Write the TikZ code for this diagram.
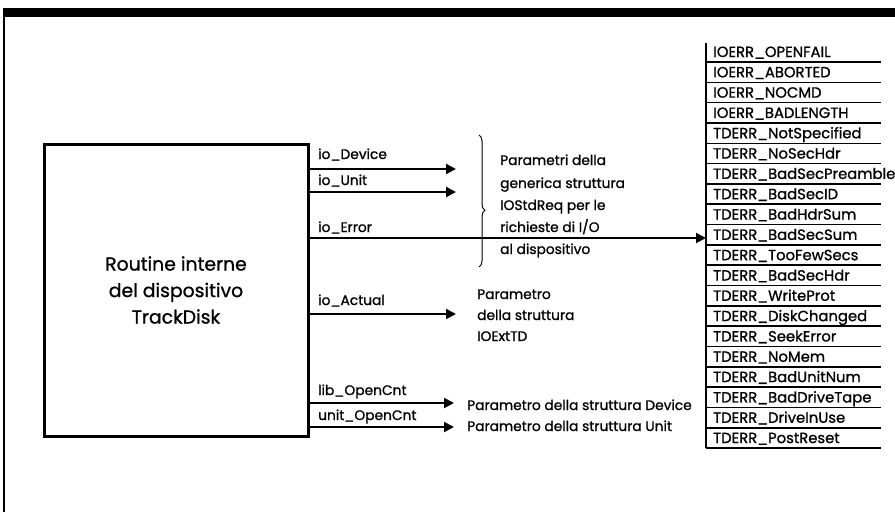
\documentclass[tikz,border=0pt]{standalone}
\usepackage{fontspec}
\setmainfont{Poppins}[FakeBold=1]
\usetikzlibrary{arrows.meta,decorations.pathreplacing}
\begin{document}
\begin{tikzpicture}[x=1pt,y=-1pt,
  lbl/.style={anchor=base west, inner sep=0pt, font=\fontsize{13.8}{15}\selectfont},
  rowtxt/.style={anchor=base west, inner sep=0pt, font=\fontsize{14.8}{15}\selectfont},
  conn/.style={line width=2pt, -{Triangle[length=10pt,width=10pt]}},
  rule/.style={line width=1.5pt},
  mainbox/.style={draw, line width=3pt, minimum width=264pt, minimum height=292pt, inner sep=0pt}]
\useasboundingbox (0,0) rectangle (895,523);
% frame: top bar and left rule
\fill (3,8) rectangle (895,17);
\draw[line width=1.6pt] (4,17) -- (4,512);
% main box
\node[mainbox] (box) at (176,290) {};
\node[align=center, font=\fontsize{18.8}{26.5}\selectfont] (boxtxt) at (box.center) {Routine interne\\del dispositivo\\TrackDisk};
% labels
\node[lbl] (lDev) at (318,159) {io\_Device};
\node[lbl] (lUnit) at (318,185) {io\_Unit};
\node[lbl] (lErr) at (318,232) {io\_Error};
\node[lbl] (lAct) at (318,305) {io\_Actual};
\node[lbl] (lLib) at (318,395) {lib\_OpenCnt};
\node[lbl] (lUop) at (318,420) {unit\_OpenCnt};
% arrow end points
\coordinate (eDev) at (456,169);
\coordinate (eUnit) at (456,192);
\coordinate (eErr) at (706,238);
\coordinate (eAct) at (456,314);
\coordinate (eLib) at (454,403);
\coordinate (eUop) at (454,427);
\draw[conn] (box.east |- eDev) -- (eDev);
\draw[conn] (box.east |- eUnit) -- (eUnit);
\draw[conn] (box.east |- eErr) -- (eErr);
\draw[conn] (box.east |- eAct) -- (eAct);
\draw[conn] (box.east |- eLib) -- (eLib);
\draw[conn] (box.east |- eUop) -- (eUop);
% brace and its text
\coordinate (brTop) at (479,135);
\coordinate (brBot) at (479,267);
\draw[line width=1pt, decorate, decoration={brace, amplitude=6pt, aspect=0.57}] (brTop) -- (brBot);
\node[lbl] (p1) at (500,165) {Parametri della};
\node[lbl] (p2) at (500,188) {generica struttura};
\node[lbl] (p3) at (500,210) {IOStdReq per le};
\node[lbl] (p4) at (500,232) {richieste di I/O};
\node[lbl] (p5) at (500,254) {al dispositivo};
% io_Actual text
\node[lbl] (a1) at (477,299) {Parametro};
\node[lbl] (a2) at (477,320) {della struttura};
\node[lbl] (a3) at (477,341) {IOExtTD};
% bottom texts
\node[lbl] (b1) at (467,410) {Parametro della struttura Device};
\node[lbl] (b2) at (467,431) {Parametro della struttura Unit};
% error table
\draw[line width=2pt] (706,43) -- (706,448);
\foreach \t [count=\i from 0] in {IOERR\_OPENFAIL, IOERR\_ABORTED, IOERR\_NOCMD, IOERR\_BADLENGTH, TDERR\_NotSpecified, TDERR\_NoSecHdr, TDERR\_BadSecPreamble, TDERR\_BadSecID, TDERR\_BadHdrSum, TDERR\_BadSecSum, TDERR\_TooFewSecs, TDERR\_BadSecHdr, TDERR\_WriteProt, TDERR\_DiskChanged, TDERR\_SeekError, TDERR\_NoMem, TDERR\_BadUnitNum, TDERR\_BadDriveTape, TDERR\_DriveInUse, TDERR\_PostReset} {
  \pgfmathsetmacro{\yc}{52+20.32*\i}
  \node[rowtxt] (row\i) at (713,\yc+5) {\t};
  \draw[rule] (706,\yc+10) -- (881,\yc+10);
}
\end{tikzpicture}
\end{document}
